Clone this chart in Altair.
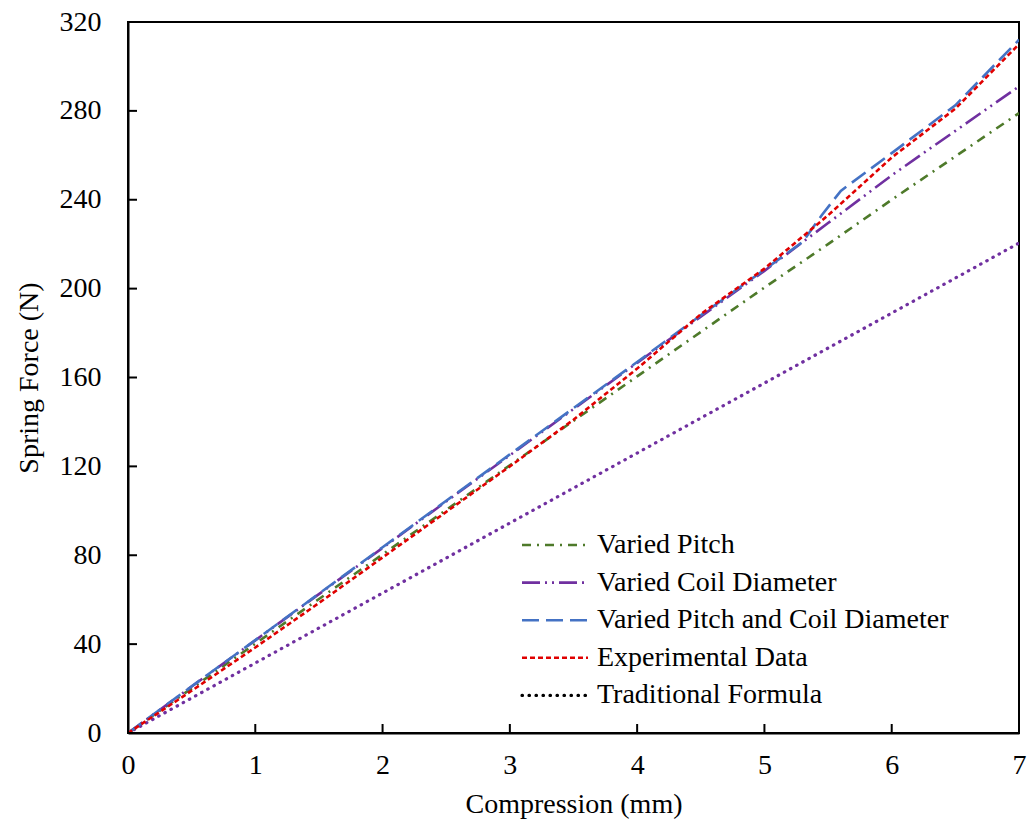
import altair as alt
import pandas as pd

# ---- data ----
compression = [0, 0.5, 1, 1.5, 2, 2.5, 3, 3.5, 4, 4.5, 5, 5.5, 6, 6.5, 7]
varied_pitch = [0, 20.1, 40.2, 60.3, 80.4, 100.4, 120.5, 140.5, 160.5, 180.5, 200.5, 220, 240, 259.5, 279]
varied_coil = [0, 20.9, 41.7, 62.5, 83.3, 104.2, 125, 145.8, 166.6, 187.4, 208, 229.5, 251, 271, 291]
both_x = [0, 0.5, 1, 1.5, 2, 2.5, 3, 3.5, 4, 4.5, 5, 5.3, 5.45, 5.6, 6, 6.5, 7]
both_y = [0, 21, 41.8, 62.7, 83.6, 104.5, 125.4, 146.2, 167, 188, 208.5, 221, 233, 244, 261, 282.5, 312]
experimental = [0, 19, 38.5, 58.5, 79, 99.5, 120, 141, 164, 188.5, 209, 233, 259, 281, 310]
trad_x = [0, 7]
trad_y = [0, 220.5]

x_ticks = [0, 1, 2, 3, 4, 5, 6, 7]
y_ticks = [0, 40, 80, 120, 160, 200, 240, 280, 320]

series_names = ["Varied Pitch", "Varied Coil Diameter", "Varied Pitch and Coil Diameter",
                "Experimental Data", "Traditional Formula"]

FONT = "Liberation Serif"
W, H = 891, 711

xscale = alt.Scale(domain=[0, 7], nice=False, zero=False)
yscale = alt.Scale(domain=[0, 320], nice=False, zero=False)
xaxis = alt.Axis(values=x_ticks, title="Compression (mm)", ticks=False, grid=False,
                 domainColor="black", domainWidth=2, labelFont=FONT, labelFontSize=28,
                 labelColor="black", labelPadding=18, labelFlush=False, titleFont=FONT,
                 titleFontSize=28, titleFontWeight="normal", titleColor="black",
                 titlePadding=11, format="d")
yaxis = alt.Axis(values=y_ticks, title="Spring Force (N)", ticks=False, grid=False,
                 domainColor="black", domainWidth=2, labelFont=FONT, labelFontSize=28,
                 labelColor="black", labelPadding=27, labelFlush=False, titleFont=FONT,
                 titleFontSize=28, titleFontWeight="normal", titleColor="black",
                 titlePadding=16, format="d")


def line(xs, ys, color, dash, width=2.6, cap="butt"):
    df = pd.DataFrame({"x": xs, "y": ys})
    return alt.Chart(df).mark_line(color=color, strokeDash=dash, strokeWidth=width,
                                   strokeCap=cap, clip=True).encode(
        x=alt.X("x:Q", scale=xscale, axis=xaxis),
        y=alt.Y("y:Q", scale=yscale, axis=yaxis))


GREEN = "#4E7A2A"
PURPLE = "#7030A0"
BLUE = "#4472C4"
RED = "#E00000"

styles = [
    (GREEN, [9, 6, 2, 6], 2.6, "butt"),
    (PURPLE, [18, 5, 2, 5, 2, 5], 2.6, "butt"),
    (BLUE, [17, 7], 2.6, "butt"),
    (RED, [5, 3], 2.6, "butt"),
    ("black", [0.5, 6.5], 3.2, "round"),
]

layers = [
    line(trad_x, trad_y, PURPLE, [0.5, 6.5], 3.2, "round"),
    line(compression, varied_pitch, GREEN, styles[0][1]),
    line(compression, varied_coil, PURPLE, styles[1][1]),
    line(both_x, both_y, BLUE, styles[2][1]),
    line(compression, experimental, RED, styles[3][1]),
]

# inward ticks
ytick_df = pd.DataFrame({"y": y_ticks})
xtick_df = pd.DataFrame({"x": x_ticks})
layers.append(alt.Chart(ytick_df).mark_rule(color="black", strokeWidth=2).encode(
    y=alt.Y("y:Q", scale=yscale, axis=yaxis), x=alt.value(0), x2=alt.value(9)))
layers.append(alt.Chart(xtick_df).mark_rule(color="black", strokeWidth=2).encode(
    x=alt.X("x:Q", scale=xscale, axis=xaxis), y=alt.value(H), y2=alt.value(H - 9)))

# legend
leg_y0, leg_dy = 523, 37.6
for i, name in enumerate(series_names):
    color, dash, width, cap = styles[i]
    d = pd.DataFrame({"label": [name]})
    yy = leg_y0 + i * leg_dy
    layers.append(alt.Chart(d).mark_rule(color=color, strokeDash=dash, strokeWidth=width,
                                         strokeCap=cap).encode(
        x=alt.value(394), x2=alt.value(460), y=alt.value(yy)))
    layers.append(alt.Chart(d).mark_text(align="left", baseline="middle", font=FONT,
                                         fontSize=28, color="black").encode(
        text="label:N", x=alt.value(469), y=alt.value(yy)))

chart = alt.layer(*layers).properties(
    width=W, height=H,
    autosize=alt.AutoSizeParams(type="none"),
    padding={"left": 128, "top": 22, "right": 9, "bottom": 94},
    background="white",
).configure_view(stroke="black", strokeWidth=2)

chart.save("out.html", embed_options={"renderer": "svg", "actions": False})
